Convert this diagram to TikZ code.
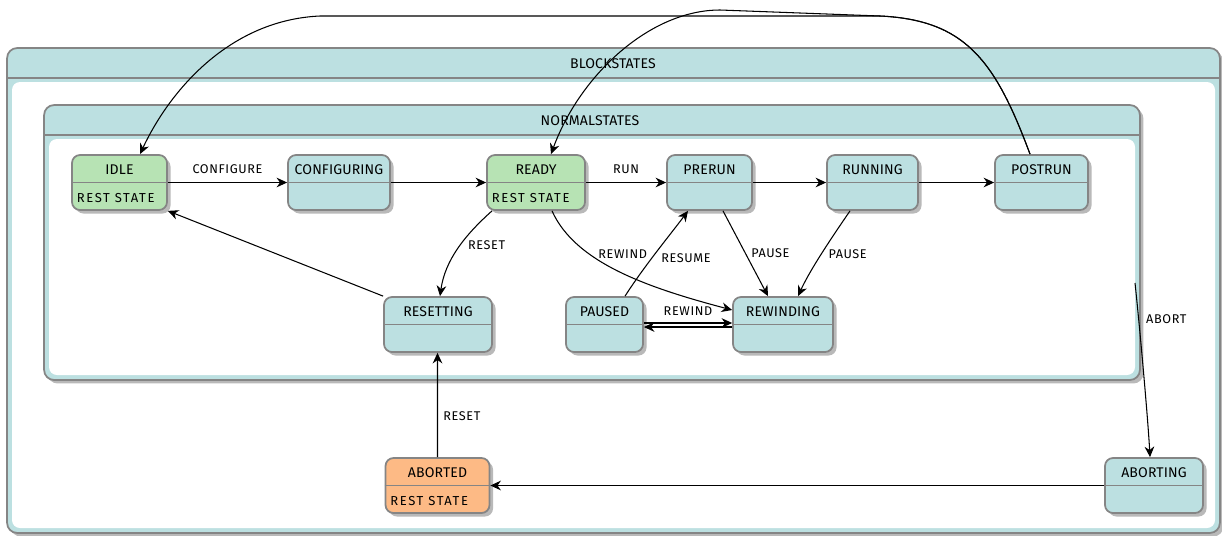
\documentclass[tikz,border=0pt]{standalone}
\usepackage{fontspec}
\setmainfont{Fira Sans}
\usetikzlibrary{arrows.meta,shadows}

\definecolor{stateteal}{HTML}{BCE0E1}
\definecolor{stategreen}{HTML}{B7E3B4}
\definecolor{stateorange}{HTML}{FDBA85}
\definecolor{stateline}{HTML}{858585}

\tikzset{
  statebox/.style={draw=stateline, line width=1pt, rounded corners=0.16cm,
    minimum height=1.1cm, inner sep=0pt,
    drop shadow={shadow xshift=0.07cm, shadow yshift=-0.07cm, fill=black!50, opacity=0.55}},
  compbox/.style={draw=stateline, line width=1pt, fill=stateteal, rounded corners=0.2cm,
    inner sep=0pt,
    drop shadow={shadow xshift=0.07cm, shadow yshift=-0.07cm, fill=black!50, opacity=0.55}},
  title/.style={font=\fontsize{8}{9}\selectfont\addfontfeature{LetterSpace=1}, inner sep=1pt},
  lbl/.style={font=\fontsize{7.2}{8}\selectfont\addfontfeature{LetterSpace=5}, inner sep=2pt},
  rest/.style={font=\fontsize{7.4}{8}\selectfont\addfontfeature{LetterSpace=12}, inner sep=2pt},
  tr/.style={-{Stealth[length=6pt,width=5.5pt]}, line width=0.6pt},
}

\begin{document}
\begin{tikzpicture}[x=0.02cm, y=-0.02cm]
  \useasboundingbox (0,0) rectangle (1222,535);

  % composite states
  \node[compbox, minimum width=24.26cm, minimum height=9.7cm] (blockstates) at (613.5,290.5) {};
  \fill[white, rounded corners=0.16cm] (12,82) rectangle (1215,528);
  \draw[stateline, line width=1pt] (7,78) -- (1220,78);
  \node[title] (blockstates-t) at (613,64) {BLOCKSTATES};

  \node[compbox, minimum width=21.92cm, minimum height=5.5cm] (normalstates) at (592,242.5) {};
  \fill[white, rounded corners=0.16cm] (49,139) rectangle (1135,375);
  \draw[stateline, line width=1pt] (44,135) -- (1140,135);
  \node[title] (normalstates-t) at (590,121) {NORMALSTATES};

  % simple states
  \foreach \n/\x/\y/\w/\t/\c in {
      idle/119.5/182.5/95/IDLE/stategreen,
      configuring/339/182.5/102/CONFIGURING/stateteal,
      ready/536/182.5/98/READY/stategreen,
      prerun/709.5/182.5/85/PRERUN/stateteal,
      running/872.5/182.5/91/RUNNING/stateteal,
      postrun/1041.5/182.5/93/POSTRUN/stateteal,
      resetting/438/324.5/108/RESETTING/stateteal,
      paused/604.5/324.5/77/PAUSED/stateteal,
      rewinding/783/324.5/100/REWINDING/stateteal,
      aborted/437.5/485.5/104/ABORTED/stateorange,
      aborting/1154/485.5/98/ABORTING/stateteal} {
    \node[statebox, fill=\c, minimum width=\w*0.02cm] (\n) at (\x,\y) {};
    \draw[stateline, line width=0.8pt] (\n.west) -- (\n.east);
    \node[title] (\n-t) at ([yshift=0.25cm]\n.center) {\t};
  }
  \foreach \n in {idle, ready, aborted}
    \node[rest, anchor=west] (\n-r) at ([xshift=0.04cm, yshift=-0.31cm]\n.west) {REST STATE};

  % transitions
  \draw[tr] (idle) -- node[lbl, above=3pt] (l-configure) {CONFIGURE} (configuring);
  \draw[tr] (configuring) -- (ready);
  \draw[tr] (ready) -- node[lbl, above=3pt] (l-run) {RUN} (prerun);
  \draw[tr] (prerun) -- (running);
  \draw[tr] (running) -- (postrun);

  \draw[tr] ([xshift=-0.23cm]postrun.north) .. controls (995,60) and (965,20) .. (880,16)
    -- (320,16) .. controls (230,20) and (170,90) .. ([xshift=0.41cm]idle.north);
  \draw[tr] ([xshift=-0.23cm]postrun.north) .. controls (995,60) and (965,20) .. (880,16)
    -- (720,10) .. controls (650,10) and (580,75) .. ([xshift=0.3cm]ready.north);

  \draw[tr] ([xshift=-0.88cm]ready.south) .. controls (465,235) and (445,260)
    .. node[lbl, right=2pt, pos=0.45] (l-reset1) {RESET} ([xshift=0.04cm]resetting.north);
  \draw[tr] ([xshift=0.32cm]ready.south) .. controls (575,262) and (645,287)
    .. node[lbl, pos=0.33, anchor=west, xshift=3pt] (l-rewind1) {REWIND} ([yshift=0.29cm]rewinding.west);
  \draw[tr] ([xshift=0.41cm]paused.north) .. controls (645,265) and (670,235)
    .. node[lbl, right=3pt, pos=0.42] (l-resume) {RESUME} ([xshift=-0.43cm]prerun.south);
  \draw[tr] ([xshift=0.27cm]prerun.south) -- node[lbl, right=1pt, pos=0.5] (l-pause1) {PAUSE} ([xshift=-0.3cm]rewinding.north);
  \draw[tr] ([xshift=-0.45cm]running.south) .. controls (830,240) and (810,270)
    .. node[lbl, right=2pt, pos=0.5] (l-pause2) {PAUSE} ([xshift=0.3cm]rewinding.north);
  \draw[tr] ([yshift=0.03cm]paused.east) -- node[lbl, above=2pt] (l-rewind2) {REWIND} ([yshift=0.03cm]rewinding.west);
  \draw[tr] ([yshift=-0.05cm]rewinding.west) -- ([yshift=-0.05cm]paused.east);
  \draw[tr] (resetting.north west) -- (idle.south east);

  \draw[tr] (aborted) -- node[lbl, right=1pt, pos=0.39] (l-reset2) {RESET} ([xshift=-0.01cm]resetting.south);
  \draw[tr] (aborting) -- (aborted);
  \coordinate (abortsrc) at (1135,283);
  \draw[tr] (abortsrc) .. controls (1140,330) and (1148,420)
    .. node[lbl, right=2pt, pos=0.22] (l-abort) {ABORT} ([xshift=-0.08cm]aborting.north);
\end{tikzpicture}
\end{document}
